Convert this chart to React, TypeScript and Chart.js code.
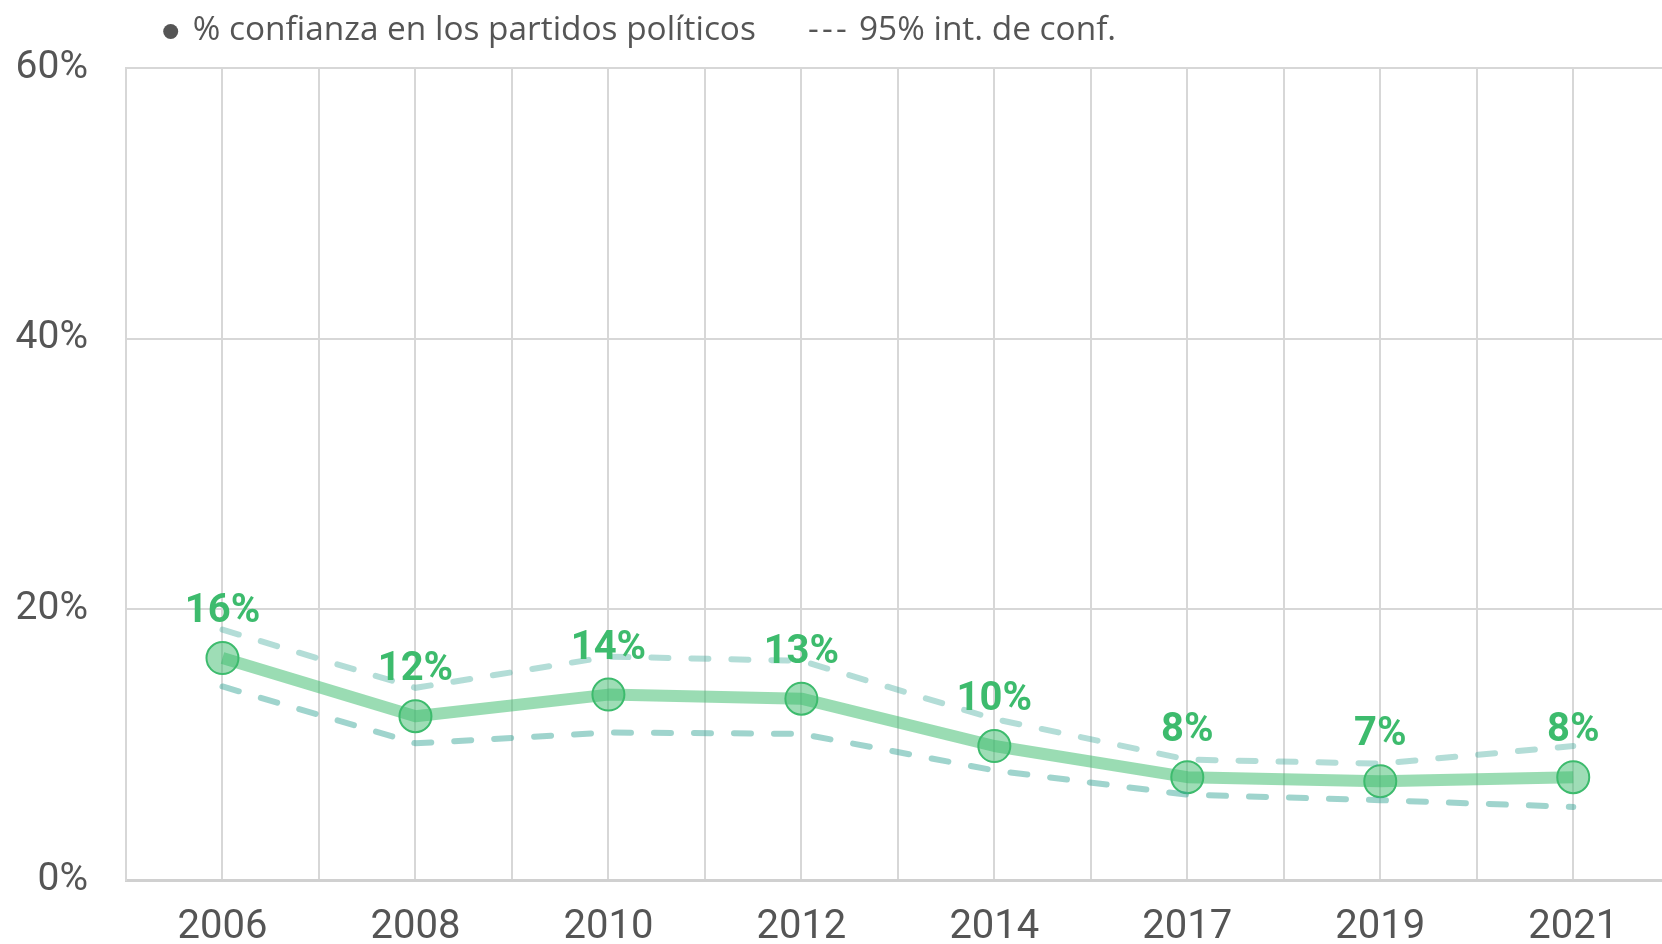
import React, { useEffect, useRef } from "react";
import { Chart, registerables } from "chart.js";

Chart.register(...registerables);

const years = ["2006", "2008", "2010", "2012", "2014", "2017", "2019", "2021"];
const confidence = [16.4, 12.1, 13.7, 13.4, 9.9, 7.6, 7.3, 7.6];
const upperCI = [18.5, 14.2, 16.5, 16.2, 11.9, 8.9, 8.6, 9.9];
const lowerCI = [14.3, 10.1, 10.9, 10.8, 8.1, 6.3, 5.9, 5.4];
const yTicks = [0, 20, 40, 60];

const legendMain = "% confianza en los partidos políticos";
const legendDash = "-";
const legendCI = "95% int. de conf.";

const GREEN = "#3dbb6d";
const GRID = "#d7d7d7";
const TEXT = "#555555";

const toPoints = (arr: number[]) => arr.map((v, i) => ({ x: i, y: v }));

const labelsPlugin = {
  id: "customLabels",
  afterDatasetsDraw(chart: any) {
    const ctx = chart.ctx;
    const meta = chart.getDatasetMeta(2);
    ctx.save();
    ctx.font = "bold 40px Roboto";
    ctx.fillStyle = GREEN;
    ctx.textAlign = "center";
    ctx.textBaseline = "middle";
    meta.data.forEach((pt: any, i: number) => {
      ctx.fillText(Math.round(confidence[i]) + "%", pt.x, pt.y - 46);
    });
    ctx.restore();
  },
  afterDraw(chart: any) {
    const ctx = chart.ctx;
    ctx.save();
    ctx.fillStyle = TEXT;
    ctx.beginPath();
    ctx.arc(170.7, 31.5, 7.5, 0, Math.PI * 2);
    ctx.fill();
    ctx.font = "33.4px 'Open Sans'";
    ctx.textAlign = "left";
    ctx.textBaseline = "alphabetic";
    ctx.fillText(legendMain, 192.7, 39.5);
    [808, 822, 836].forEach((x) => ctx.fillText(legendDash, x, 39.5));
    ctx.fillText(legendCI, 859, 39.5);
    ctx.restore();
  },
};

export default function App() {
  const canvasRef = useRef<HTMLCanvasElement | null>(null);

  useEffect(() => {
    if (!canvasRef.current) return;
    Chart.defaults.font.family = "Roboto";
    const chart = new Chart(canvasRef.current, {
      type: "line",
      data: {
        datasets: [
          {
            label: "upper",
            data: toPoints(upperCI),
            borderColor: "rgba(64,170,155,0.4)",
            borderWidth: 6,
            borderDash: [17, 23],
            borderCapStyle: "round",
            pointRadius: 0,
            fill: false,
            tension: 0,
          },
          {
            label: "lower",
            data: toPoints(lowerCI),
            borderColor: "rgba(64,170,155,0.5)",
            borderWidth: 6,
            borderDash: [17, 23],
            borderCapStyle: "round",
            pointRadius: 0,
            fill: false,
            tension: 0,
          },
          {
            label: "main",
            data: toPoints(confidence),
            borderColor: "rgba(61,187,109,0.52)",
            borderWidth: 12,
            borderJoinStyle: "round",
            pointRadius: 16,
            pointBackgroundColor: "rgba(61,187,109,0.5)",
            pointBorderColor: GREEN,
            pointBorderWidth: 2,
            fill: false,
            tension: 0,
          },
        ],
      },
      options: {
        animation: false,
        responsive: false,
        devicePixelRatio: 1,
        layout: { autoPadding: false, padding: { top: 68, left: 0, right: 0, bottom: 0 } },
        plugins: {
          legend: { display: false },
          tooltip: { enabled: false },
          title: { display: false },
        },
        scales: {
          x: {
            type: "linear",
            min: -0.5,
            max: 7.46,
            afterFit: (s: any) => {
              s.height = 64;
              s.paddingLeft = 0;
              s.paddingRight = 0;
            },
            grid: { color: GRID, lineWidth: 2, drawTicks: false },
            border: { display: true, color: "#d0d0d0", width: 3 },
            ticks: {
              stepSize: 0.5,
              includeBounds: false,
              autoSkip: false,
              maxRotation: 0,
              padding: 24,
              color: TEXT,
              font: { size: 40, family: "Roboto" },
              callback: (v: any) => (Number.isInteger(v) && years[v] ? years[v] : ""),
            },
          },
          y: {
            min: yTicks[0],
            max: yTicks[yTicks.length - 1],
            afterFit: (s: any) => {
              s.width = 126;
            },
            grid: { color: GRID, lineWidth: 2, drawTicks: false },
            border: { display: true, color: GRID, width: 2 },
            ticks: {
              stepSize: 20,
              padding: 38,
              color: TEXT,
              font: { size: 39, family: "Roboto" },
              callback: (v: any) => v + "%",
            },
          },
        },
      },
      plugins: [labelsPlugin],
    } as any);
    return () => chart.destroy();
  }, []);

  return (
    <div style={{ position: "fixed", left: 0, top: 0, width: 1662, height: 944, background: "#fff" }}>
      <canvas ref={canvasRef} width={1662} height={944} style={{ display: "block" }} />
    </div>
  );
}
